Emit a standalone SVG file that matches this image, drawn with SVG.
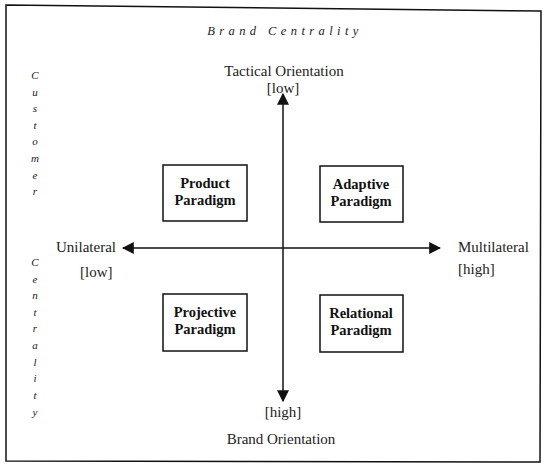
<svg xmlns="http://www.w3.org/2000/svg" width="550" height="471" viewBox="0 0 550 471">
<style>
.t{font-family:"Liberation Serif","Times New Roman",serif;font-size:15px;fill:#222}
.ttl{font-family:"Liberation Serif","Times New Roman",serif;font-size:12.5px;font-style:italic;fill:#222;letter-spacing:4.4px;text-anchor:middle}
.b{font-family:"Liberation Serif","Times New Roman",serif;font-size:14.5px;font-weight:bold;fill:#111;text-anchor:middle}
.v{font-family:"Liberation Serif","Times New Roman",serif;font-size:11px;font-style:italic;fill:#222;text-anchor:middle}
.box{fill:#fff;stroke:#111;stroke-width:1.5}
.ax{stroke:#111;stroke-width:1.5;fill:none}
</style>
<defs>
<marker id="ah" viewBox="0 0 10 10" refX="9" refY="5" markerWidth="12" markerHeight="12" markerUnits="userSpaceOnUse" orient="auto-start-reverse">
<path d="M0,0 L10,5 L0,10 z" fill="#111"/>
</marker>
</defs>
<rect width="550" height="471" fill="#fff"/>
<polygon points="6,5 541,11 540,462 6,461" fill="none" stroke="#111" stroke-width="1.5"/>
<text x="285" y="35" class="ttl">Brand  Centrality</text>
<g id="left-label">
<text class="v" x="35" y="79">C</text>
<text class="v" x="35" y="96">u</text>
<text class="v" x="35" y="112">s</text>
<text class="v" x="35" y="129">t</text>
<text class="v" x="35" y="145">o</text>
<text class="v" x="35" y="162">m</text>
<text class="v" x="35" y="179">e</text>
<text class="v" x="35" y="195">r</text>
<text class="v" x="35" y="266">C</text>
<text class="v" x="35" y="283">e</text>
<text class="v" x="35" y="299">n</text>
<text class="v" x="35" y="316">t</text>
<text class="v" x="35" y="332">r</text>
<text class="v" x="35" y="349">a</text>
<text class="v" x="35" y="366">l</text>
<text class="v" x="35" y="382">i</text>
<text class="v" x="35" y="399">t</text>
<text class="v" x="35" y="416">y</text>
</g>
<g id="connectors">
<line class="ax" x1="283" y1="401" x2="283" y2="94" marker-start="url(#ah)" marker-end="url(#ah)"/>
<line class="ax" x1="123" y1="248" x2="440" y2="248" marker-start="url(#ah)" marker-end="url(#ah)"/>
</g>
<g id="axis-labels">
<text class="t" x="284" y="76" text-anchor="middle">Tactical Orientation</text>
<text class="t" x="283" y="93" text-anchor="middle">[low]</text>
<text class="t" x="283" y="417" text-anchor="middle">[high]</text>
<text class="t" x="281" y="444" text-anchor="middle">Brand Orientation</text>
<text class="t" x="56" y="252">Unilateral</text>
<text class="t" x="80" y="277">[low]</text>
<text class="t" x="458" y="252">Multilateral</text>
<text class="t" x="458" y="274">[high]</text>
</g>
<g id="product">
<rect class="box" x="163" y="165" width="84" height="56"/>
<text class="b" x="205" y="188">Product</text>
<text class="b" x="205" y="205">Paradigm</text>
</g>
<g id="adaptive">
<rect class="box" x="320" y="166" width="83" height="56"/>
<text class="b" x="361" y="189">Adaptive</text>
<text class="b" x="361" y="206">Paradigm</text>
</g>
<g id="projective">
<rect class="box" x="163" y="294" width="84" height="57"/>
<text class="b" x="205" y="317">Projective</text>
<text class="b" x="205" y="334">Paradigm</text>
</g>
<g id="relational">
<rect class="box" x="320" y="295" width="83" height="57"/>
<text class="b" x="361" y="318">Relational</text>
<text class="b" x="361" y="335">Paradigm</text>
</g>
</svg>
